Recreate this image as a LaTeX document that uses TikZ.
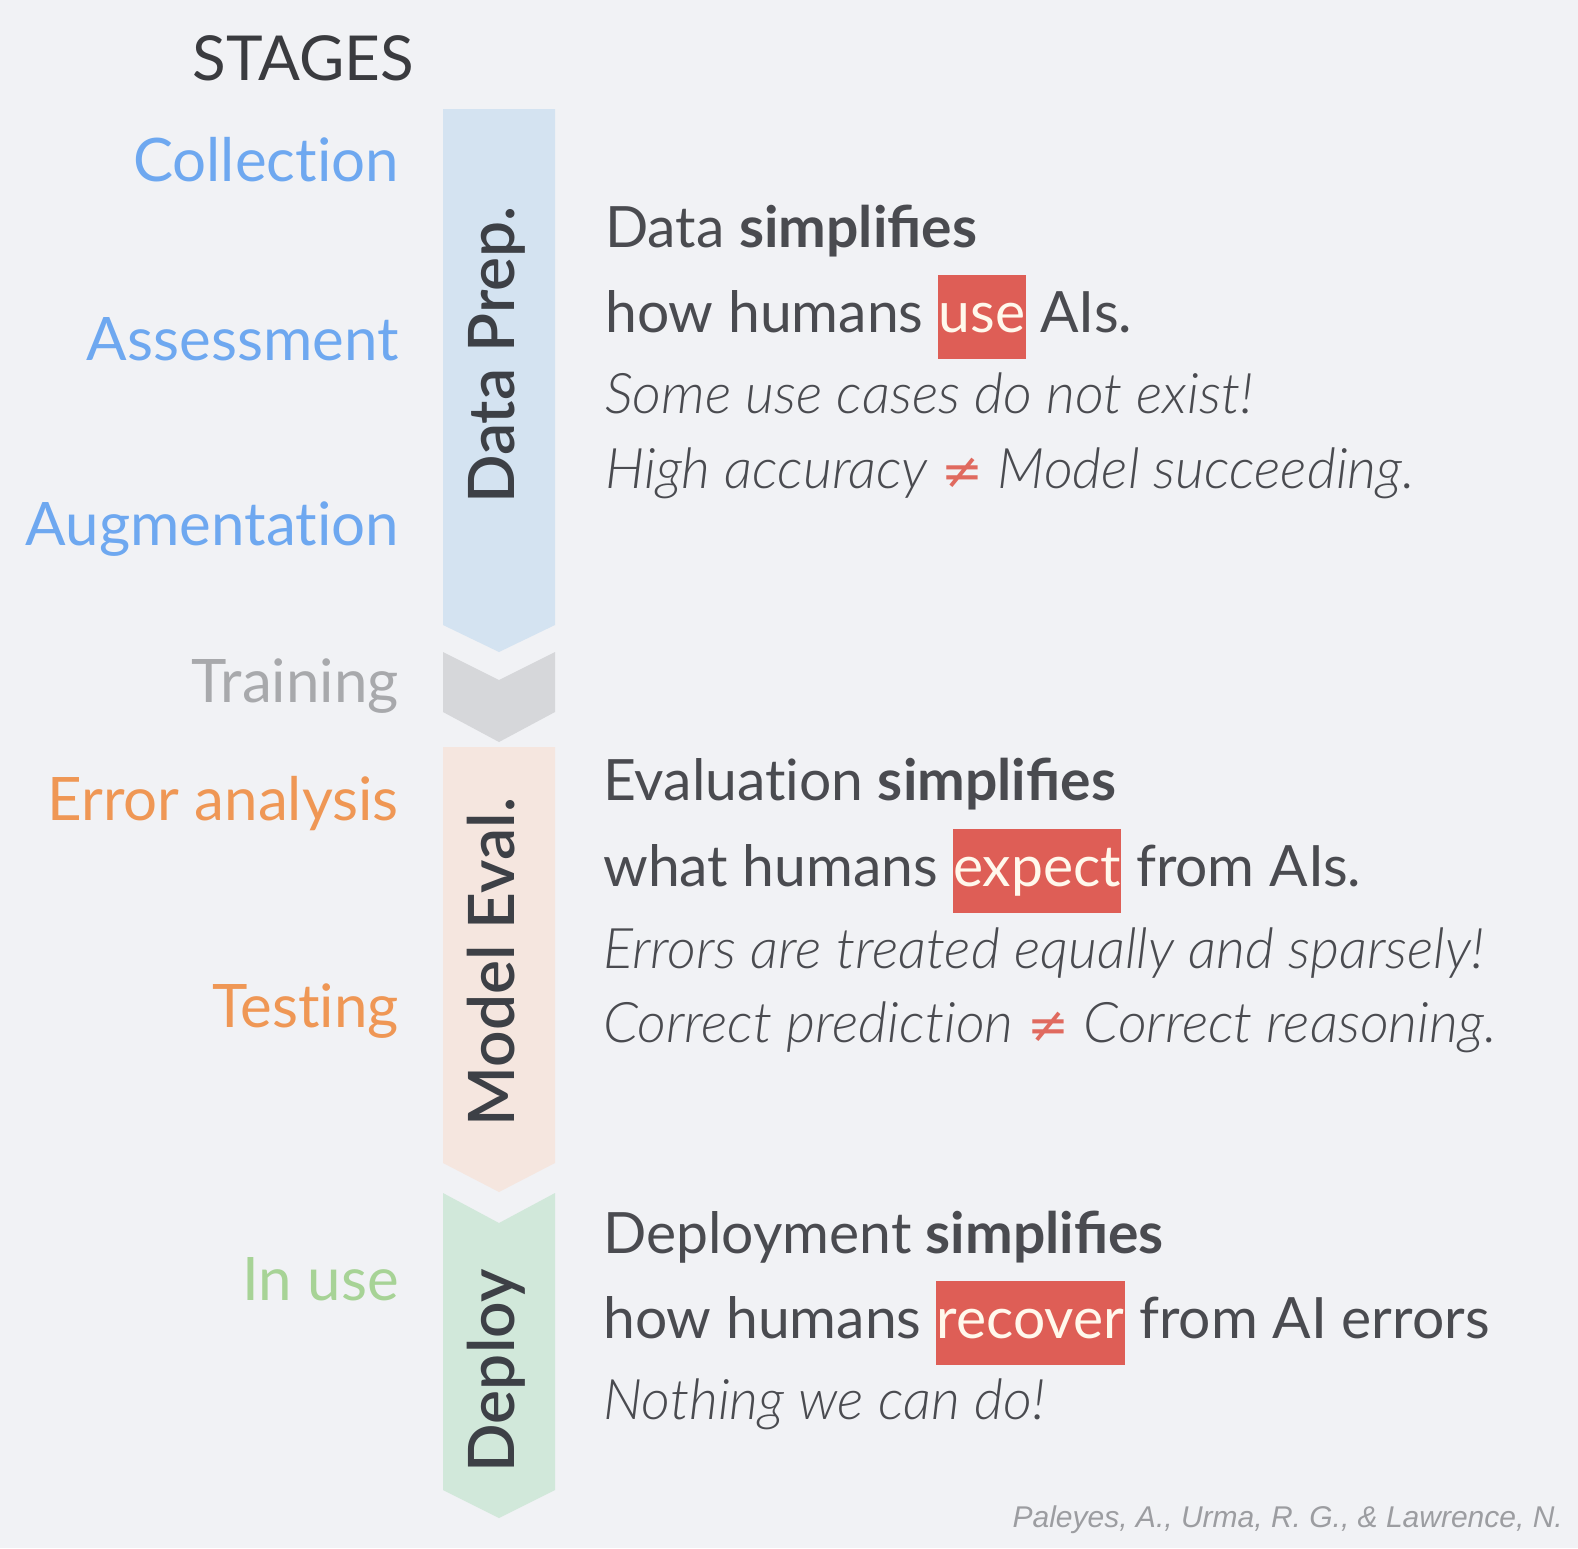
\documentclass[tikz,border=0pt]{standalone}
\usepackage{fontspec}
\setmainfont{Lato}
\newfontfamily\citefont{Liberation Sans}
\newfontfamily\symfont{DejaVu Sans}
\IfFontExistsTF{Lato Light Italic}{\newfontfamily\lightit{Lato Light Italic}}{\newcommand\lightit{\itshape}}
\IfFontExistsTF{Lato Semibold}{\newfontfamily\medfont{Lato Semibold}}{\newcommand\medfont{\bfseries}}
\newcommand\tI{t\kern0pt i}
\definecolor{bg}{HTML}{F1F2F5}
\definecolor{dark}{HTML}{3A3B3F}
\definecolor{bodytext}{HTML}{4A4B50}
\definecolor{vtext}{HTML}{3D4046}
\definecolor{cblue}{HTML}{6EA8F0}
\definecolor{cgrey}{HTML}{A8A9AC}
\definecolor{corange}{HTML}{EF9755}
\definecolor{cgreen}{HTML}{A7D396}
\definecolor{fblue}{HTML}{D4E3F1}
\definecolor{fgrey}{HTML}{D6D7DA}
\definecolor{fpeach}{HTML}{F5E6DF}
\definecolor{fgreen}{HTML}{D1E8DA}
\definecolor{hlred}{HTML}{DE5E56}
\definecolor{hltext}{HTML}{FFF8EC}
\definecolor{neqred}{HTML}{E06A5F}
\definecolor{citegrey}{HTML}{9C9DA1}
\newcommand\hlbox[1]{{\setlength\fboxsep{0pt}\colorbox{hlred}{\rule[-27pt]{0pt}{84pt}\hspace{0.5pt}\textcolor{hltext}{#1}\hspace{0.5pt}}}}
\newcommand\redneq{{\symfont\fontsize{50}{60}\selectfont\color{neqred}≠}}
\tikzset{
  lbl/.style={anchor=base east, inner sep=0pt, font=\fontsize{60}{70}\selectfont},
  bodyline/.style={anchor=base west, inner sep=0pt, text=bodytext, font=\fontsize{57}{70}\selectfont},
  noteline/.style={anchor=base west, inner sep=0pt, text=bodytext, font=\fontsize{56}{60}\selectfont\lightit},
  vlab/.style={anchor=base, rotate=90, inner sep=0pt, text=vtext, font=\fontsize{64}{70}\selectfont\medfont},
}
\begin{document}
\begin{tikzpicture}[x=1pt,y=-1pt]
\fill[bg] (0,0) rectangle (1578,1548);
\useasboundingbox (0,0) rectangle (1578,1548);
% arrows
\fill[fblue] (443,109) -- (555,109) -- (555,625) -- (499,652) -- (443,625) -- cycle;
\fill[fgrey] (443,652) -- (499,680) -- (555,652) -- (555,712) -- (499,742) -- (443,712) -- cycle;
\fill[fpeach] (443,747) -- (555,747) -- (555,1163) -- (499,1192) -- (443,1163) -- cycle;
\fill[fgreen] (443,1193) -- (499,1223) -- (555,1193) -- (555,1490) -- (499,1518) -- (443,1490) -- cycle;
% title
\node[anchor=base east, inner sep=0pt, text=dark, font=\fontsize{62}{70}\selectfont] (stages) at (414,80) {STAGES};
% stage labels
\node[lbl, text=cblue] (collection) at (399,181) {Collec\tI on};
\node[lbl, text=cblue] (assessment) at (399,360) {Assessment};
\node[lbl, text=cblue] (augmentation) at (399,545) {Augmenta\tI on};
\node[lbl, text=cgrey] (training) at (399,702) {Training};
\node[lbl, text=corange] (erroranalysis) at (399,820) {Error analysis};
\node[lbl, text=corange] (testing) at (399,1027) {Tes\tI ng};
\node[lbl, text=cgreen] (inuse) at (399,1300) {In use};
% vertical labels
\node[vlab] (dataprep) at (514,355) {Data Prep.};
\node[vlab] (modeleval) at (514,962) {Model Eval.};
\node[vlab] (deploy) at (514,1371) {Deploy};
% block 1
\node[bodyline] (b1a) at (605,247) {Data \textbf{simplifies}};
\node[bodyline] (b1b) at (605,332) {how humans \hlbox{use} AIs.};
\node[noteline] (b1c) at (605,413) {Some use cases do not exist!};
\node[noteline] (b1d) at (605,488) {High accuracy \redneq{} Model succeeding.};
% block 2
\node[bodyline] (b2a) at (603,800) {Evalua\tI on \textbf{simplifies}};
\node[bodyline] (b2b) at (603,886) {what humans \hlbox{expect} from AIs.};
\node[noteline] (b2c) at (603,968) {Errors are treated equally and sparsely!};
\node[noteline] (b2d) at (603,1042) {Correct predic\tI on \redneq{} Correct reasoning.};
% block 3
\node[bodyline] (b3a) at (603,1253) {Deployment \textbf{simplifies}};
\node[bodyline] (b3b) at (603,1338) {how humans \hlbox{recover} from AI errors};
\node[noteline] (b3c) at (603,1419) {Nothing we can do!};
% citation
\node[anchor=base east, inner sep=0pt, text=citegrey, font=\citefont\fontsize{30}{34}\selectfont\itshape] (cite) at (1563,1527) {Paleyes, A., Urma, R. G., \& Lawrence, N.};
\end{tikzpicture}
\end{document}
